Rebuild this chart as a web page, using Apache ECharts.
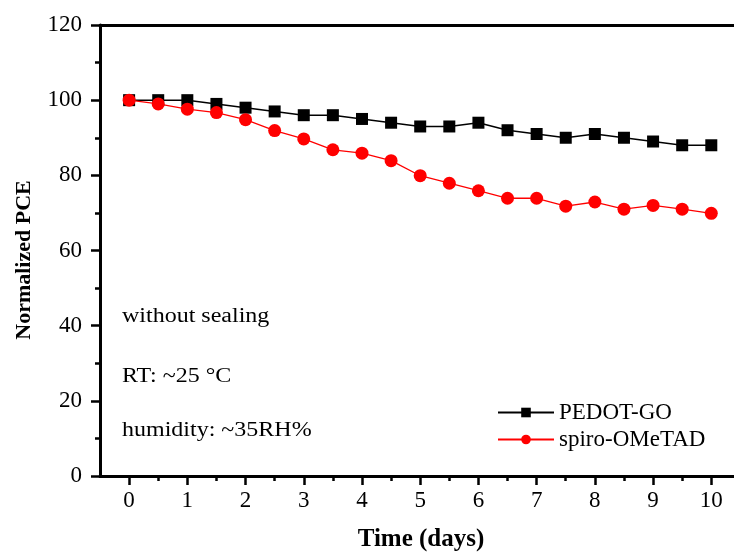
<!DOCTYPE html>
<html>
<head>
<meta charset="utf-8">
<script src="https://cdn.jsdelivr.net/npm/echarts@6/dist/echarts.min.js"></script>
<style>html,body{margin:0;padding:0;background:#fff}#c{width:734px;height:552px}</style>
</head>
<body>
<div id="c"></div>
<script>
var days = [0,0.5,1,1.5,2,2.5,3,3.5,4,4.5,5,5.5,6,6.5,7,7.5,8,8.5,9,9.5,10];
var pedotGO = [100,100,100,99,98,97,96,96,95,94,93,93,94,92,91,90,91,90,89,88,88];
var spiro = [100,99,97.6,96.7,94.8,91.9,89.7,86.8,85.9,83.9,79.9,77.9,75.9,73.9,73.9,71.8,72.9,71,72,71,69.9];
var xMajorTicks = [0,1,2,3,4,5,6,7,8,9,10];
var xMinorTicks = [0.5,1.5,2.5,3.5,4.5,5.5,6.5,7.5,8.5,9.5];
var notes = ['without sealing', 'RT: ~25 \u00B0C', 'humidity: ~35RH%'];
var yTitle = 'Normalized PCE';
var xTitle = 'Time (days)';

var FONT = '"Liberation Serif", "Times New Roman", serif';
var chart = echarts.init(document.getElementById('c'), null, {renderer:'canvas'});
function pairs(xs, ys){ return xs.map(function(x,i){ return [x, ys[i]]; }); }
var XMIN = -0.5, XMAX = 10.39;

chart.setOption({
  animation: false,
  backgroundColor: '#fff',
  grid: {left: 100, right: 0, top: 25, bottom: 76, show: false, outerBoundsMode: 'none', containLabel: false},
  legend: {
    left: 492, top: 396, orient: 'vertical', itemWidth: 56, itemHeight: 12, itemGap: 4,
    textStyle: {fontFamily: FONT, fontSize: 23, color: '#000'},
    data: ['PEDOT-GO', 'spiro-OMeTAD']
  },
  xAxis: [{
    type: 'value', min: XMIN, max: XMAX,
    name: xTitle, nameLocation: 'middle', nameGap: 51,
    nameTextStyle: {fontFamily: FONT, fontSize: 25, fontWeight: 'bold', color: '#000', padding: [0, 0, 0, 8]},
    axisLine: {show: true, onZero: false, lineStyle: {color: '#000', width: 3}},
    axisTick: {show: true, customValues: xMajorTicks, length: 9, lineStyle: {color: '#000', width: 2.5}},
    axisLabel: {show: true, customValues: xMajorTicks, margin: 13, fontFamily: FONT, fontSize: 23, color: '#000'},
    splitLine: {show: false}
  }, {
    type: 'value', min: XMIN, max: XMAX, position: 'bottom',
    axisLine: {show: false, onZero: false},
    axisTick: {show: true, customValues: xMinorTicks, length: 5, lineStyle: {color: '#000', width: 2.5}},
    axisLabel: {show: false},
    splitLine: {show: false}
  }, {
    type: 'value', min: XMIN, max: XMAX, position: 'top',
    axisLine: {show: true, onZero: false, lineStyle: {color: '#000', width: 3}},
    axisTick: {show: false}, axisLabel: {show: false}, splitLine: {show: false}
  }],
  yAxis: {
    type: 'value', min: 0, max: 120, interval: 20,
    axisLine: {show: true, onZero: false, lineStyle: {color: '#000', width: 3}},
    axisTick: {show: true, length: 9, lineStyle: {color: '#000', width: 2.5}},
    minorTick: {show: true, splitNumber: 2, length: 5, lineStyle: {color: '#000', width: 2.5}},
    axisLabel: {margin: 18, fontFamily: FONT, fontSize: 23, color: '#000'},
    splitLine: {show: false}
  },
  series: [{
    name: 'PEDOT-GO', type: 'line', data: pairs(days, pedotGO),
    symbol: 'rect', symbolSize: 12, showAllSymbol: true,
    lineStyle: {color: '#000', width: 1.5}, itemStyle: {color: '#000'}
  }, {
    name: 'spiro-OMeTAD', type: 'line', data: pairs(days, spiro),
    symbol: 'circle', symbolSize: 13, showAllSymbol: true,
    lineStyle: {color: '#ff0000', width: 1.3}, itemStyle: {color: '#ff0000'}
  }],
  graphic: notes.map(function(t, i){
    return {type: 'text', x: 122, y: [317, 377, 431][i], scaleX: 1.2,
      style: {text: t, fontFamily: FONT, fontSize: 20, fill: '#000', textVerticalAlign: 'middle'}};
  }).concat([{
    type: 'text', x: 24, y: 260, rotation: Math.PI / 2,
    style: {text: yTitle, fontFamily: FONT, fontSize: 22, fontWeight: 'bold', fill: '#000', textAlign: 'center', textVerticalAlign: 'middle'}
  }])
});
</script>
</body>
</html>
